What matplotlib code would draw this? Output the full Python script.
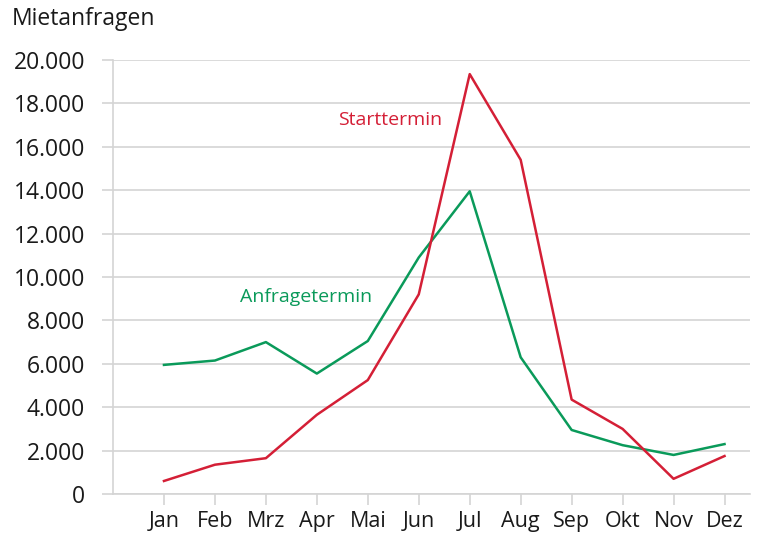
import matplotlib
matplotlib.use('Agg')
import matplotlib.pyplot as plt
from matplotlib.ticker import FuncFormatter

plt.rcParams['font.family'] = ['Open Sans', 'DejaVu Sans']

months = ['Jan', 'Feb', 'Mrz', 'Apr', 'Mai', 'Jun', 'Jul', 'Aug', 'Sep', 'Okt', 'Nov', 'Dez']
anfragetermin = [5950, 6150, 7000, 5550, 7050, 10900, 13950, 6300, 2950, 2250, 1800, 2300]
starttermin = [600, 1350, 1650, 3650, 5250, 9200, 19350, 15400, 4350, 3000, 700, 1750]

green = '#0a9a5a'
red = '#d41f36'
grid_col = '#d4d4d4'

fig = plt.figure(figsize=(7.63, 5.35), dpi=100)
ax = fig.add_axes([113 / 763, 41 / 535, 637 / 763, 434 / 535])

x = list(range(1, 13))
ax.plot(x, anfragetermin, color=green, lw=1.8, zorder=3)
ax.plot(x, starttermin, color=red, lw=1.8, zorder=3)

ax.set_xlim(0, 12.5)
ax.set_ylim(0, 20000)
ax.set_yticks(range(0, 20001, 2000))
ax.yaxis.set_major_formatter(FuncFormatter(lambda v, p: '{:,.0f}'.format(v).replace(',', '.')))
ax.set_xticks(x)
ax.set_xticklabels(months)

ax.grid(axis='y', color=grid_col, lw=1.2)
ax.set_axisbelow(True)
for s in ['top', 'right']:
    ax.spines[s].set_visible(False)
for s in ['left', 'bottom']:
    ax.spines[s].set_color(grid_col)
    ax.spines[s].set_linewidth(1.2)

ax.tick_params(axis='y', length=8, color=grid_col, width=1.2, labelsize=16.5, pad=12, labelcolor='#1a1a1a')
ax.tick_params(axis='x', length=8, color=grid_col, width=1.2, labelsize=15.5, pad=4, labelcolor='#1a1a1a')

ax.text(4.41, 17250, 'Starttermin', color=red, fontsize=14, ha='left', va='center')
ax.text(2.5, 9080, 'Anfragetermin', color=green, fontsize=14, ha='left', va='center')

fig.text(12 / 763, 1 - 19 / 535, 'Mietanfragen', fontsize=16.5, ha='left', va='center', color='#1a1a1a')

fig.savefig('out.png', dpi=100)
